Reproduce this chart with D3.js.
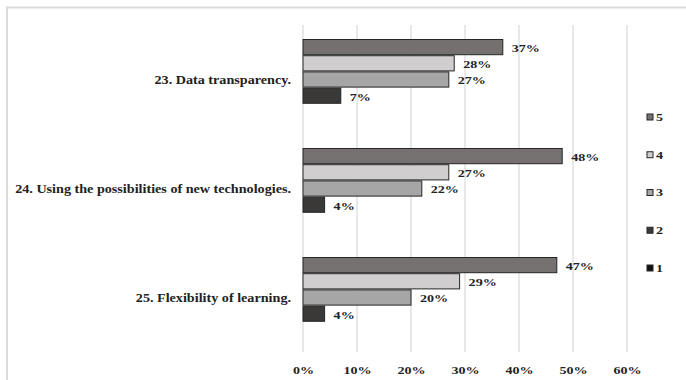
<!DOCTYPE html>
<html>
<head>
<meta charset="utf-8">
<script src="https://cdn.jsdelivr.net/npm/d3@7"></script>
<style>
  html, body { margin: 0; padding: 0; background: #fff; }
  svg { display: block; }
  text { font-family: "Liberation Serif", "Times New Roman", serif; font-weight: bold; fill: #222; }
</style>
</head>
<body>
<svg id="chart" width="686" height="380"></svg>
<script>
// Survey items (rows of the chart, top to bottom)
const categories = [
  "23. Data transparency.",
  "24. Using the possibilities of new technologies.",
  "25. Flexibility of learning."
];

// Share of answers per rating, in percent, one value per item
const rating5 = [37, 48, 47];
const rating4 = [28, 27, 29];
const rating3 = [27, 22, 20];
const rating2 = [7, 4, 4];
const rating1 = [0, 0, 0];

const seriesKeys = ["5", "4", "3", "2", "1"];
const xTicks = [0, 10, 20, 30, 40, 50, 60];

const seriesValues = { "5": rating5, "4": rating4, "3": rating3, "2": rating2, "1": rating1 };
const colors = { "5": "#767171", "4": "#d0cece", "3": "#a6a6a6", "2": "#3b3838", "1": "#111111" };

// Text is set slightly wide, like the condensed serif stretched horizontally
const SX = 1.28;

const svg = d3.select("#chart");

// Frame border (only top and left edges fall inside the view)
svg.append("path")
  .attr("d", "M7,380 V7.5 H686")
  .attr("fill", "none")
  .attr("stroke", "#dcdcdc")
  .attr("stroke-width", 2);

const x = d3.scaleLinear().domain([0, 60]).range([303, 627]);
const y0 = d3.scaleBand().domain(categories).range([25, 352]).paddingInner(0.257).paddingOuter(0.1285);
const y1 = d3.scaleBand().domain(seriesKeys).range([0, y0.bandwidth()]);

// Vertical gridlines
svg.append("g")
  .selectAll("line")
  .data(xTicks)
  .join("line")
  .attr("x1", d => x(d)).attr("x2", d => x(d))
  .attr("y1", 25).attr("y2", 352)
  .attr("stroke", "#d9d9d9")
  .attr("stroke-width", 1.2);

// X axis labels
const xAxis = d3.axisBottom(x).tickValues(xTicks).tickFormat(d => d + "%").tickSize(0).tickPadding(0);
const gx = svg.append("g").attr("transform", "translate(0,366)").call(xAxis);
gx.select(".domain").remove();
gx.selectAll("text")
  .attr("font-size", 11).attr("font-family", null).attr("fill", "#222")
  .attr("transform", `scale(${SX},1)`);

// Category labels
svg.append("g")
  .selectAll("text")
  .data(categories)
  .join("text")
  .attr("transform", d => `translate(291,${y0(d) + y0.bandwidth() / 2}) scale(1.18,1)`)
  .attr("dy", "0.35em")
  .attr("text-anchor", "end")
  .attr("font-size", 12)
  .text(d => d);

// Bars and value labels (zero shares leave an empty slot)
const rows = categories.map((c, i) => ({
  cat: c,
  vals: seriesKeys.map(k => ({ key: k, v: seriesValues[k][i] })).filter(d => d.v > 0)
}));
const groups = svg.append("g").selectAll("g")
  .data(rows)
  .join("g")
  .attr("transform", d => `translate(0,${y0(d.cat)})`);

groups.selectAll("rect")
  .data(d => d.vals)
  .join("rect")
  .attr("x", x(0))
  .attr("y", d => y1(d.key) + 0.5)
  .attr("width", d => x(d.v) - x(0))
  .attr("height", y1.bandwidth() - 1)
  .attr("fill", d => colors[d.key])
  .attr("stroke", "#262626")
  .attr("stroke-width", 1);

groups.selectAll("text")
  .data(d => d.vals)
  .join("text")
  .attr("transform", d => `translate(${x(d.v) + 9},${y1(d.key) + y1.bandwidth() / 2 + 1}) scale(${SX},1)`)
  .attr("dy", "0.35em")
  .attr("font-size", 11)
  .text(d => d.v + "%");

// Legend
const legendY = d3.scalePoint().domain(seriesKeys).range([117, 268]);
const lg = svg.append("g").selectAll("g")
  .data(seriesKeys)
  .join("g")
  .attr("transform", d => `translate(647,${legendY(d)})`);
lg.append("rect")
  .attr("x", 0).attr("y", -3)
  .attr("width", 6).attr("height", 6)
  .attr("fill", d => colors[d])
  .attr("stroke", "#262626")
  .attr("stroke-width", 1);
lg.append("text")
  .attr("transform", `translate(9,0) scale(${SX},1)`)
  .attr("dy", "0.35em")
  .attr("font-size", 11)
  .text(d => d);
</script>
</body>
</html>
